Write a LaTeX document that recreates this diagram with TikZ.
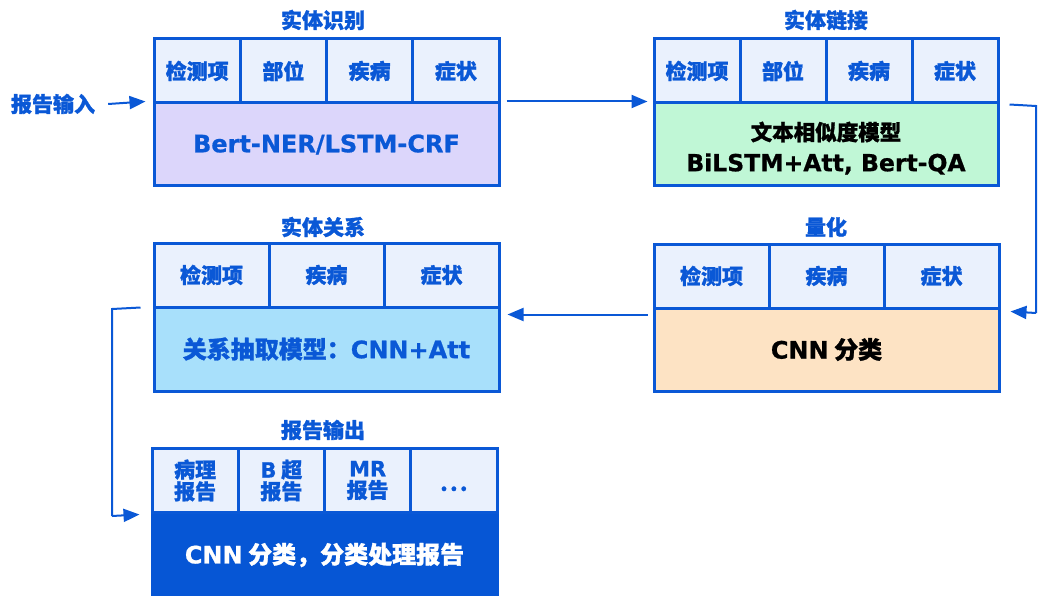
\documentclass[tikz,border=0pt]{standalone}
\usepackage{fontspec}
\setmainfont{Noto Sans CJK SC}[BoldFeatures={FakeBold=1.2}]
\newfontfamily\latf{DejaVu Sans}[BoldFeatures={FakeBold=0.8}]
\newcommand{\la}[1]{{\latf\bfseries #1}}
\usetikzlibrary{arrows.meta}
\definecolor{bl}{HTML}{0A58D6}
\definecolor{cellfill}{HTML}{EAF1FD}
\definecolor{lav}{HTML}{DCD6FB}
\definecolor{mint}{HTML}{C0F7D6}
\definecolor{peach}{HTML}{FDE3C4}
\definecolor{cyanf}{HTML}{A8E0FB}
\definecolor{dkbl}{HTML}{0656D5}
\begin{document}
\begin{tikzpicture}[x=1pt,y=-1pt,
  cell/.style={draw=bl, line width=3pt, fill=cellfill, minimum height=64pt, inner sep=0pt,
    font=\bfseries\fontsize{21}{22}\selectfont, text=bl, align=center},
  mainbox/.style={draw=bl, line width=3pt, minimum width=345pt, inner sep=0pt, align=center,
    font=\bfseries\fontsize{24}{28}\selectfont},
  ttl/.style={font=\bfseries\fontsize{21}{22}\selectfont, text=bl, inner sep=0pt},
  conn/.style={draw=bl, line width=2pt, -{Triangle[length=16pt,width=13pt]}},
  line/.style={draw=bl, line width=2pt}
]
\useasboundingbox (0,0) rectangle (1038,596);

% ---------- Block 1: 实体识别
\node[ttl] (t1) at (323,20) {实体识别};
\node[mainbox, fill=lav, minimum height=83pt, text=bl] (m1) at (326.5,144.5) {\la{Bert-NER/LSTM-CRF}};
\node[cell, minimum width=86.25pt] (c11) at (197.125,71) {检测项};
\node[cell, minimum width=86.25pt] (c12) at (283.375,71) {部位};
\node[cell, minimum width=86.25pt] (c13) at (369.625,71) {疾病};
\node[cell, minimum width=86.25pt] (c14) at (455.875,71) {症状};

% ---------- Block 2: 实体链接
\node[ttl] (t2) at (826,20) {实体链接};
\node[mainbox, fill=mint, minimum width=344pt, minimum height=83pt, text=black] (m2) at (826,144.5) {};
\node[font=\bfseries\fontsize{21.5}{22}\selectfont, inner sep=0pt] (m2a) at (826,132) {文本相似度模型};
\node[font=\bfseries\fontsize{23.5}{26}\selectfont, inner sep=0pt] (m2b) at (826,164) {\la{BiLSTM+Att, Bert-QA}};
\node[cell, minimum width=86pt] (c21) at (697,71) {检测项};
\node[cell, minimum width=86pt] (c22) at (783,71) {部位};
\node[cell, minimum width=86pt] (c23) at (869,71) {疾病};
\node[cell, minimum width=86pt] (c24) at (955,71) {症状};

% ---------- Block 3: 量化
\node[ttl] (t3) at (826,227) {量化};
\node[mainbox, fill=peach, minimum height=83pt, text=black] (m3) at (826.5,349.5) {\la{CNN} 分类};
\node[cell, minimum width=115pt] (c31) at (711.5,276) {检测项};
\node[cell, minimum width=115pt] (c32) at (826.5,276) {疾病};
\node[cell, minimum width=115pt] (c33) at (941.5,276) {症状};

% ---------- Block 4: 实体关系
\node[ttl] (t4) at (323,227) {实体关系};
\node[mainbox, fill=cyanf, minimum height=84pt, text=bl] (m4) at (326.5,349) {关系抽取模型：\la{CNN+Att}};
\node[cell, minimum width=115pt] (c41) at (211.5,275) {检测项};
\node[cell, minimum width=115pt] (c42) at (326.5,275) {疾病};
\node[cell, minimum width=115pt] (c43) at (441.5,275) {症状};

% ---------- Block 5: 报告输出
\node[ttl] (t5) at (323,430) {报告输出};
\node[mainbox, draw=dkbl, fill=dkbl, minimum height=90pt, text=white] (m5) at (324.5,557) {};
\node[font=\bfseries\fontsize{24}{28}\selectfont, text=white, inner sep=0pt] (m5t) at (324.5,555) {\la{CNN} 分类，分类处理报告};
\node[cell, minimum width=86.25pt, font=\bfseries\fontsize{21}{21.7}\selectfont] (c51) at (195.125,480.5) {病理\\报告};
\node[cell, minimum width=86.25pt, font=\bfseries\fontsize{21}{21.7}\selectfont] (c52) at (281.375,480.5) {\la{B} 超\\报告};
\node[cell, minimum width=86.25pt, font=\bfseries\fontsize{21}{21.7}\selectfont] (c53) at (367.625,480.5) {\la{MR}\\报告};
\node[cell, minimum width=86.25pt] (c54) at (453.875,480.5) {\vphantom{报}\raisebox{-3pt}{.\kern2.5pt.\kern2.5pt.}};

% ---------- input label
\node[ttl] (in) at (53,104) {报告输入};

% ---------- connectors
\draw[conn] (in.east) ++(13pt,0) coordinate (inS) -- ([xshift=-7pt]m1.north west);
\draw[conn] ([xshift=6pt]m1.north east) -- ([xshift=-5pt]m2.north west);
\coordinate (r1) at (1036,106);
\coordinate (r2) at (1036,313);
\draw[line] ([xshift=10pt,yshift=-3pt]m2.north east) -- (r1) -- (r2);
\draw[conn] (r2) -- ([xshift=10pt,yshift=-5pt]m3.north east);
\draw[conn] ([xshift=-5pt,yshift=-8pt]m3.north west) -- ([xshift=7pt,yshift=-9pt]m4.north east);
\coordinate (l1) at (112,309);
\coordinate (l2) at (112,516);
\draw[line] ([xshift=-12pt,yshift=-2pt]m4.north west) -- (l1) -- (l2);
\draw[conn] (l2) -- ([xshift=-11pt,yshift=-4pt]m5.north west);
\end{tikzpicture}
\end{document}
